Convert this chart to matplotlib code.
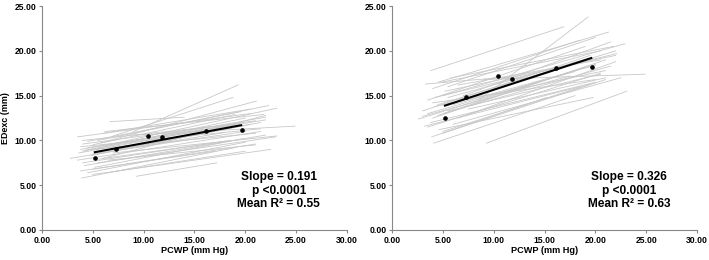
import numpy as np
import matplotlib
matplotlib.use('Agg')
import matplotlib.pyplot as plt

plt.rcParams['font.family'] = ['Liberation Sans', 'DejaVu Sans']

# group mean points (PCWP, EDexc)
pcwp_pts = [5.25, 7.31, 10.43, 11.77, 16.10, 19.64]
left_pts = [8.02, 9.06, 10.51, 10.40, 11.07, 11.22]
right_pts = [12.48, 14.86, 17.24, 16.83, 18.09, 18.20]

# mean regression line ends
mean_x = [5.2, 19.6]
left_mean_y = [8.69, 11.70]
right_mean_y = [13.89, 19.20]

# individual patient lines: x0, x1, y0, y1
left_x0 = [3.5, 4.0, 3.8, 2.8, 3.5, 4.2, 3.9, 4.5, 5.0, 5.5, 9.3, 9.0, 6.7, 7.0,
           5.0, 6.0, 5.5, 9.0, 7.0, 4.0, 4.5, 3.8, 4.8, 5.2, 4.0, 6.0, 5.0, 4.5,
           6.5, 5.0, 7.5, 3.6, 4.0, 6.0, 8.0, 5.5, 4.8, 7.0, 3.8, 5.8, 4.2, 6.2]
left_x1 = [20.5, 21.0, 19.5, 18.0, 21.5, 22.0, 19.0, 20.0, 21.0, 23.0, 17.2, 19.3, 14.0, 18.8,
           21.1, 23.1, 22.3, 24.9, 23.1, 20.0, 19.5, 21.5, 20.5, 19.8, 18.5, 22.0, 20.0, 17.5,
           21.0, 22.5, 21.5, 16.0, 19.0, 20.5, 22.0, 18.0, 21.0, 20.0, 17.0, 19.0, 22.0, 21.8]
left_y0 = [10.4, 9.6, 9.0, 8.0, 7.8, 7.2, 5.8, 6.4, 6.8, 7.5, 6.0, 11.0, 12.1, 10.5,
           9.5, 9.4, 10.0, 10.6, 8.6, 8.8, 9.9, 9.3, 8.3, 7.0, 7.5, 8.0, 8.5, 9.2,
           7.8, 6.2, 9.0, 8.6, 10.0, 10.8, 9.8, 7.9, 9.0, 6.5, 6.6, 9.7, 8.9, 11.0]
left_y1 = [13.0, 12.2, 11.9, 10.9, 11.0, 10.6, 9.2, 9.8, 9.6, 10.4, 7.5, 16.2, 12.6, 14.8,
           14.4, 13.6, 13.9, 11.6, 10.5, 12.5, 13.2, 11.3, 11.8, 10.2, 10.0, 12.8, 11.0, 11.5,
           9.5, 9.0, 12.0, 11.2, 11.8, 13.5, 12.6, 9.9, 10.8, 8.8, 8.8, 12.9, 12.3, 12.9]

right_x0 = [3.8, 8.5, 4.5, 5.0, 4.2, 9.0, 9.3, 3.9, 2.6, 3.3, 4.1, 3.5, 4.0, 3.0,
            5.0, 4.5, 3.5, 5.5, 4.0, 6.0, 5.0, 4.2, 3.8, 6.5, 5.5, 4.8, 7.0, 3.5,
            5.0, 6.0, 4.5, 5.2, 7.5, 4.0, 3.2, 6.5, 5.8, 4.6, 5.5, 3.0]
right_x1 = [16.9, 19.3, 21.3, 22.9, 22.1, 24.9, 23.1, 15.2, 20.0, 11.5, 18.0, 20.5, 21.0, 19.5,
            21.5, 22.0, 19.0, 20.0, 18.5, 22.5, 19.5, 21.0, 20.0, 22.0, 19.5, 20.5, 21.5, 18.0,
            21.0, 20.0, 19.0, 22.0, 21.0, 20.0, 18.5, 20.5, 21.8, 19.8, 20.5, 17.5]
right_y0 = [17.8, 14.5, 16.5, 15.0, 14.8, 16.8, 9.7, 10.4, 12.4, 16.3, 9.7, 11.5, 12.5, 13.3,
            13.0, 14.0, 14.5, 16.0, 15.8, 11.8, 11.0, 13.8, 12.0, 12.5, 14.8, 16.5, 15.0, 13.0,
            10.8, 14.0, 12.8, 15.5, 13.5, 14.2, 11.6, 16.2, 17.0, 11.2, 13.3, 12.7]
right_y1 = [22.7, 23.8, 22.1, 20.8, 19.7, 17.4, 15.5, 14.8, 18.5, 17.1, 15.0, 17.5, 19.0, 19.5,
            18.3, 20.0, 20.5, 21.5, 21.2, 17.0, 16.3, 17.8, 16.5, 18.8, 19.2, 20.0, 21.0, 17.7,
            16.8, 18.4, 18.2, 19.5, 17.0, 16.8, 16.0, 19.0, 20.5, 14.8, 17.4, 17.2]

stats_left = 'Slope = 0.191\np <0.0001\nMean R² = 0.55'
stats_right = 'Slope = 0.326\np <0.0001\nMean R² = 0.63'

xticks = [0, 5, 10, 15, 20, 25, 30]
yticks = [0, 5, 10, 15, 20, 25]

fig = plt.figure(figsize=(7.09, 2.60), dpi=100)
ax1 = fig.add_axes([0.0592, 0.1154, 0.430, 0.861])
ax2 = fig.add_axes([0.553, 0.1154, 0.430, 0.861])

panels = [
    (ax1, left_x0, left_x1, left_y0, left_y1, left_pts, left_mean_y, stats_left),
    (ax2, right_x0, right_x1, right_y0, right_y1, right_pts, right_mean_y, stats_right),
]

for ax, x0, x1, y0, y1, pts, mean_y, txt in panels:
    for a, b, c, d in zip(x0, x1, y0, y1):
        ax.plot([a, b], [c, d], color='#c8c8c8', linewidth=0.6, zorder=1)
    ax.plot(mean_x, mean_y, color='black', linewidth=1.5, zorder=3)
    ax.plot(pcwp_pts, pts, 'o', color='black', markersize=2.3, zorder=4)
    ax.set_xlim(0, 30)
    ax.set_ylim(0, 25)
    ax.set_xticks(xticks)
    ax.set_yticks(yticks)
    ax.set_xticklabels(['%.2f' % v for v in xticks], fontsize=6.2, fontweight='bold')
    ax.set_yticklabels(['%.2f' % v for v in yticks], fontsize=6.2, fontweight='bold')
    for s in ['top', 'right']:
        ax.spines[s].set_visible(False)
    for s in ['left', 'bottom']:
        ax.spines[s].set_color('#888888')
        ax.spines[s].set_linewidth(0.8)
    ax.tick_params(direction='out', length=2.5, width=0.8, color='#888888', pad=1.5)
    ax.set_xlabel('PCWP (mm Hg)', fontsize=6.6, fontweight='bold', labelpad=1)
    ax.text(23.3, 4.4, txt, ha='center', va='center', fontsize=8.6,
            fontweight='bold', linespacing=1.15)

ax1.set_ylabel('EDexc (mm)', fontsize=6.4, fontweight='bold', labelpad=3)

fig.savefig('out.png', dpi=100)
